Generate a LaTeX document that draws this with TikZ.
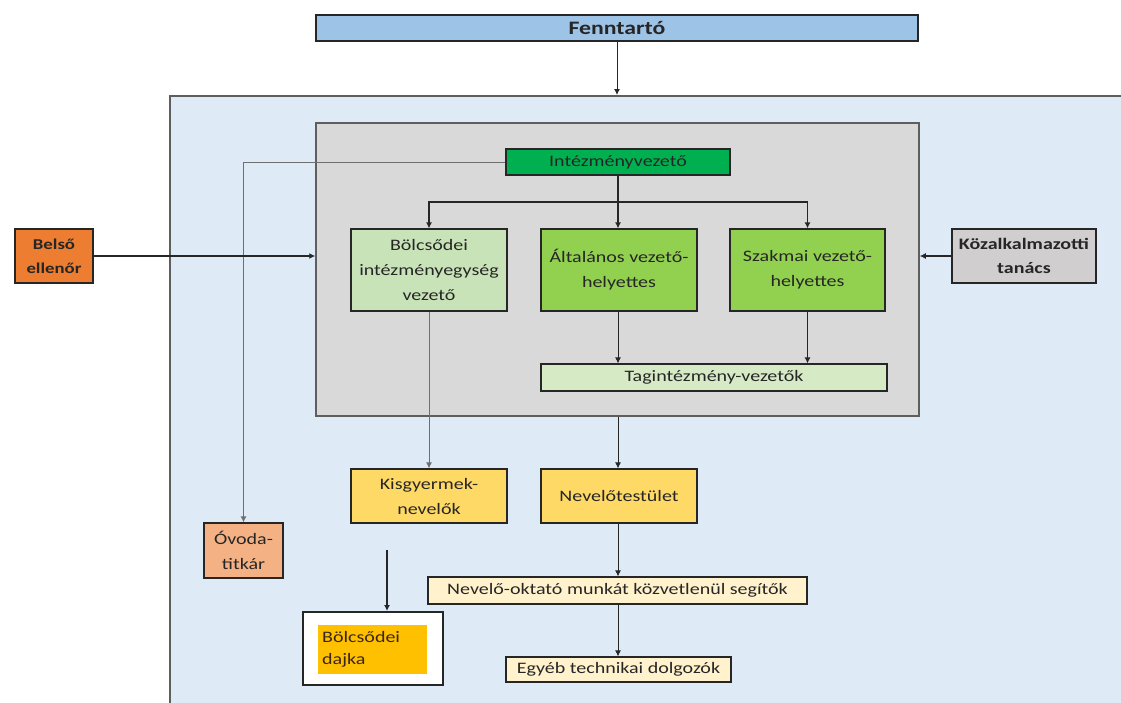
\documentclass[tikz,border=0pt]{standalone}
\usepackage{fontspec}
\setmainfont{Carlito}[FakeStretch=1.25]
\usetikzlibrary{arrows.meta}
\definecolor{cFenn}{HTML}{9DC3E6}
\definecolor{cCont}{HTML}{DEEBF7}
\definecolor{cPanel}{HTML}{D9D9D9}
\definecolor{cPanelLine}{HTML}{5E5E5E}
\definecolor{cIv}{HTML}{00B050}
\definecolor{cLight}{HTML}{C9E3B8}
\definecolor{cMid}{HTML}{92D050}
\definecolor{cTag}{HTML}{D6EAC6}
\definecolor{cBelso}{HTML}{ED7D31}
\definecolor{cKoz}{HTML}{D0CECE}
\definecolor{cGold}{HTML}{FFD966}
\definecolor{cOvoda}{HTML}{F4B183}
\definecolor{cDajka}{HTML}{FFC000}
\definecolor{cPale}{HTML}{FFF2CC}
\definecolor{cLine}{HTML}{262626}
\definecolor{cGrayLine}{HTML}{6F6F6F}
\tikzset{
  box/.style={draw=cLine, line width=1.2pt, rectangle, inner sep=0pt, align=center,
    font=\fontsize{16}{25}\selectfont, text=black!85},
  boldbox/.style={box, font=\fontsize{16}{24}\selectfont\bfseries},
  arr/.style={draw=cLine, line width=1pt, -{Latex[length=6pt,width=6pt]}},
  plain/.style={draw=cLine, line width=1pt},
}
\newcommand{\bx}[6]{% name, x1, y1, x2, y2, style
  \node[box, #6, minimum width={(#4-#2)*1pt}, minimum height={(#5-#3)*1pt}] (#1) at ({(#2+#4)/2},{(#3+#5)/2})}
\begin{document}
\begin{tikzpicture}[x=1pt,y=-1pt]
\useasboundingbox (0,0) rectangle (1121,702);
\fill[white] (0,0) rectangle (1121,702);
% container
\node[draw=cPanelLine, line width=2pt, fill=cCont, minimum width=980pt, minimum height=640pt, anchor=north west, inner sep=0pt] (cont) at (169,95) {};
% gray panel
\bx{panel}{316}{123}{919}{416}{fill=cPanel, draw=cPanelLine, line width=1.5pt}{};
% boxes
\bx{fenn}{316}{15}{918}{41}{fill=cFenn, font=\fontsize{19}{22}\selectfont\bfseries}{Fenntartó};
\bx{iv}{506}{149}{730}{175}{fill=cIv}{Intézményvezető};
\bx{bolcs}{351}{229}{507}{311}{fill=cLight}{Bölcsődei\\intézményegység\\vezető};
\bx{alt}{541}{229}{697}{311}{fill=cMid}{Általános vezető-\\helyettes};
\bx{szak}{730}{229}{885}{311}{fill=cMid}{Szakmai vezető-\\helyettes};
\bx{tag}{541}{364}{887}{391}{fill=cTag}{Tagintézmény-vezetők};
\bx{belso}{15}{229}{93}{283}{boldbox, fill=cBelso, font=\fontsize{15}{24}\selectfont\bfseries}{Belső\\ellenőr};
\bx{koz}{952}{229}{1096}{283}{boldbox, fill=cKoz}{Közalkalmazotti\\tanács};
\bx{kisgy}{351}{469}{507}{523}{fill=cGold}{Kisgyermek-\\nevelők};
\bx{nevt}{541}{469}{697}{523}{fill=cGold}{Nevelőtestület};
\bx{ovoda}{204}{523}{283}{578}{fill=cOvoda}{Óvoda-\\titkár};
\bx{dajka}{303}{612}{443}{685}{fill=white, line width=2pt}{};
\bx{dajkain}{318}{625}{427}{674}{fill=cDajka, draw=none}{};
\node[anchor=west, align=left, font=\fontsize{16}{22}\selectfont, text=black!70!brown, inner sep=0pt] (dajkatxt) at (322,649) {Bölcsődei\\dajka};
\bx{nevok}{428}{577}{807}{604}{fill=cPale}{Nevelő-oktató munkát közvetlenül segítők};
\bx{egyeb}{506}{657}{731}{682}{fill=cPale}{Egyéb technikai dolgozók};
% connectors
\draw[arr] (fenn.south) -- (fenn.south |- cont.north);
\coordinate (bus) at (618,202);
\draw[plain, line width=1.5pt] (iv.south -| bus) -- (bus);
\draw[arr, line width=1.5pt] (bus) -| (bolcs.north);
\draw[arr, line width=1.5pt] (bus) -| (szak.north);
\draw[arr, line width=1.5pt] (bus) -- (bus |- alt.north);
\draw[arr, draw=cGrayLine] (iv.west) -| (ovoda.north);
\draw[arr, line width=2pt] (belso.east) -- (belso.east -| panel.west);
\draw[arr, line width=1.5pt] (koz.west) -- (koz.west -| panel.east);
\draw[arr] (alt.south -| bus) -- (bus |- tag.north);
\draw[arr] (szak.south) -- (szak.south |- tag.north);
\draw[arr, draw=cGrayLine] (bolcs.south -| kisgy.north) -- (kisgy.north);
\draw[arr] (panel.south -| bus) -- (bus |- nevt.north);
\coordinate (dstart) at (387,550);
\draw[arr, line width=2.2pt] (dstart) -- (dstart |- dajka.north);
\draw[arr] (nevt.south -| bus) -- (bus |- nevok.north);
\draw[arr] (nevok.south -| bus) -- (bus |- egyeb.north);
\end{tikzpicture}
\end{document}
